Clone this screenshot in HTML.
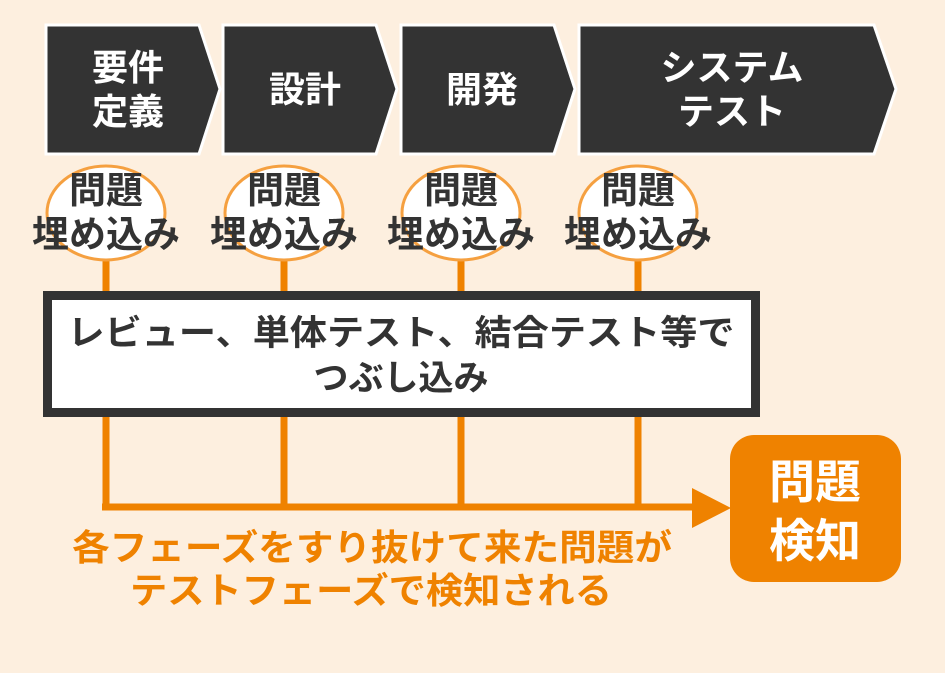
<!DOCTYPE html>
<html><head><meta charset="utf-8"><style>
html,body{margin:0;padding:0;background:#fdefdf;}
svg{display:block}
text{font-family:"Liberation Sans","Noto Sans CJK JP",sans-serif;font-weight:bold;}
</style></head><body>
<svg width="945" height="673" viewBox="0 0 945 673" xmlns="http://www.w3.org/2000/svg">
<rect width="945" height="673" fill="#fdefdf"/>
<g fill="#333" stroke="#fff" stroke-width="3">
<polygon points="46,25 199,25 220,89 199,154 46,154"/>
<polygon points="223,25 376,25 397,89 376,154 223,154"/>
<polygon points="401,25 554,25 575,89 554,154 401,154"/>
<polygon points="579,25 874,25 896,89 874,154 579,154"/>
</g>
<g fill="#fff" font-size="36" text-anchor="middle">
<text x="128" y="80">要件</text><text x="128" y="124">定義</text>
<text x="305" y="102">設計</text>
<text x="482" y="102">開発</text>
<text x="732" y="80">システム</text><text x="732" y="124">テスト</text>
</g>
<g stroke="#ef8200" stroke-width="7">
<line x1="106" y1="258" x2="106" y2="507"/>
<line x1="284" y1="258" x2="284" y2="507"/>
<line x1="461" y1="258" x2="461" y2="507"/>
<line x1="638" y1="258" x2="638" y2="507"/>
<line x1="102" y1="507" x2="700" y2="507"/>
</g>
<polygon points="692,488 731,508 692,528" fill="#ef8200"/>
<g fill="#fff" stroke="#f5a040" stroke-width="3">
<ellipse cx="106" cy="213" rx="59" ry="47"/>
<ellipse cx="284" cy="213" rx="59" ry="47"/>
<ellipse cx="461" cy="213" rx="59" ry="47"/>
<ellipse cx="638" cy="213" rx="59" ry="47"/>
</g>
<g fill="#333" font-size="37" text-anchor="middle">
<text x="106" y="203">問題</text><text x="106" y="247">埋め込み</text>
<text x="284" y="203">問題</text><text x="284" y="247">埋め込み</text>
<text x="461" y="203">問題</text><text x="461" y="247">埋め込み</text>
<text x="638" y="203">問題</text><text x="638" y="247">埋め込み</text>
</g>
<rect x="47.5" y="295.5" width="708" height="117" fill="#fff" stroke="#333" stroke-width="9"/>
<g fill="#333" font-size="35" text-anchor="middle">
<text x="401" y="345" textLength="667" lengthAdjust="spacingAndGlyphs">レビュー、単体テスト、結合テスト等で</text>
<text x="401" y="390">つぶし込み</text>
</g>
<rect x="730" y="435" width="171" height="147" rx="24" fill="#ef8200"/>
<g fill="#fff" font-size="46" text-anchor="middle">
<text x="815" y="498">問題</text><text x="815" y="557">検知</text>
</g>
<g fill="#ef8200" font-size="36" text-anchor="middle">
<text x="372" y="560" textLength="600" lengthAdjust="spacingAndGlyphs">各フェーズをすり抜けて来た問題が</text>
<text x="371" y="603" textLength="482" lengthAdjust="spacingAndGlyphs">テストフェーズで検知される</text>
</g>
</svg>
</body></html>
